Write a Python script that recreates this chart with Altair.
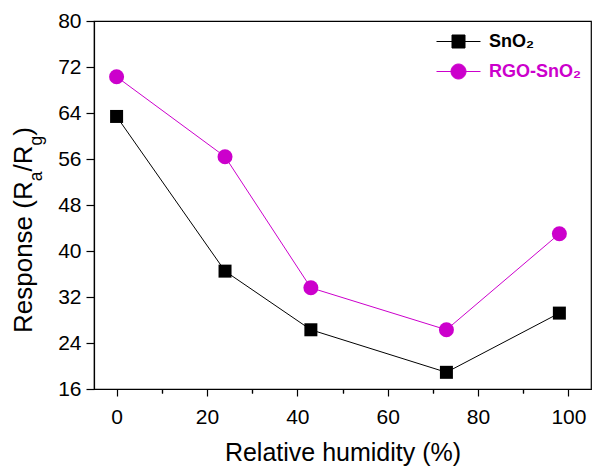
import altair as alt
import pandas as pd

# ---------------- data ----------------
humidity = [0, 24, 43, 73, 98]
sno2 = [63.4, 36.5, 26.3, 18.9, 29.2]
rgo_sno2 = [70.3, 56.4, 33.6, 26.3, 43.0]
series_names = ["SnO₂", "RGO-SnO₂"]
series_colors = ["#000000", "#CC00CC"]
series_shapes = ["square", "circle"]
series_sizes = [169, 225]

x_ticks = [0, 20, 40, 60, 80, 100]
x_minor_ticks = [10, 30, 50, 70, 90]
y_ticks = [16, 24, 32, 40, 48, 56, 64, 72, 80]
x_title = "Relative humidity (%)"
y_title_parts = ["Response (R", "a", "/R", "g", ")"]
y_title_sub = [False, True, False, True, False]

FONT = "Liberation Sans"

df = pd.DataFrame({
    "humidity": humidity * 2,
    "response": sno2 + rgo_sno2,
    "series": [series_names[0]] * len(humidity) + [series_names[1]] * len(humidity),
})

W, H = 497, 368
x_scale = alt.Scale(domain=[-5, 105], nice=False, zero=False)
y_scale = alt.Scale(domain=[16, 80], nice=False, zero=False)
color_scale = alt.Scale(domain=series_names, range=series_colors)

y_axis = alt.Axis(values=y_ticks, title=None, tickSize=8, labelPadding=5,
                  grid=False, orient="left")

SQ_PATH = "M-2.2,0H2.2M-0.65,-0.65H0.65V0.65H-0.65Z"
CI_PATH = "M-2.2,0H2.2M-0.75,0A0.75,0.75,0,1,1,0.75,0A0.75,0.75,0,1,1,-0.75,0Z"
is_first = "datum.value === '" + series_names[0] + "'"


def pick(a, b):
    return alt.ExprRef(expr=is_first + " ? '" + a + "' : '" + b + "'")


legend = alt.Legend(
    title=None, orient="none", legendX=354, legendY=10, padding=0,
    symbolSize=400, labelOffset=20, rowPadding=10,
    labelFont=FONT, labelFontSize=18, labelFontWeight="bold",
    symbolType=pick(SQ_PATH, CI_PATH),
    symbolStrokeColor=pick(series_colors[0], series_colors[1]),
    symbolFillColor=pick(series_colors[0], series_colors[1]),
    symbolStrokeWidth=1, symbolOpacity=1,
    labelColor=pick(series_colors[0], series_colors[1]),
)

base = alt.Chart(df)

lines = base.mark_line(strokeWidth=1).encode(
    x=alt.X("humidity:Q", scale=x_scale,
            axis=alt.Axis(values=x_ticks, orient="bottom", title=x_title,
                          tickSize=7, labelPadding=10, grid=False,
                          titleY=71, titleBaseline="alphabetic",
                          titleFont=FONT, titleFontSize=25,
                          titleFontWeight="normal", titleColor="black")),
    y=alt.Y("response:Q", scale=y_scale, axis=y_axis),
    color=alt.Color("series:N", scale=color_scale, legend=legend),
)

point_layers = []
for i, name in enumerate(series_names):
    point_layers.append(
        base.transform_filter(alt.datum.series == name).mark_point(
            filled=True, opacity=1, shape=series_shapes[i], size=series_sizes[i]
        ).encode(
            x=alt.X("humidity:Q", scale=x_scale,
                    axis=alt.Axis(values=x_minor_ticks, orient="bottom", labels=False,
                                  domain=False, tickSize=4, title=None, grid=False)),
            y=alt.Y("response:Q", scale=y_scale, axis=y_axis),
            color=alt.Color("series:N", scale=color_scale, legend=legend),
        )
    )

# ---- rotated y-axis title with subscripts, built from text pieces ----
char_w = {"R": 0.722, "e": 0.556, "s": 0.5, "p": 0.556, "o": 0.556, "n": 0.556,
          " ": 0.278, "(": 0.333, ")": 0.333, "/": 0.278, "a": 0.556, "g": 0.556}
MAIN_FS, SUB_FS = 26, 17.5
widths = [sum(char_w[c] for c in t) * (SUB_FS if s else MAIN_FS)
          for t, s in zip(y_title_parts, y_title_sub)]
pos = 312
title_layers = []
for t, s, w in zip(y_title_parts, y_title_sub, widths):
    title_layers.append(
        alt.Chart(pd.DataFrame({"t": [t]})).mark_text(
            angle=270, align="left", baseline="alphabetic", font=FONT,
            fontSize=SUB_FS if s else MAIN_FS, color="black",
        ).encode(x=alt.value(-52 if s else -62), y=alt.value(pos), text="t:N")
    )
    pos -= w

chart = alt.layer(lines, *point_layers, *title_layers).resolve_axis(
    x="independent"
).properties(
    width=W, height=H,
    autosize=alt.AutoSizeParams(type="none"),
    padding={"left": 94, "top": 21, "right": 9, "bottom": 78},
    background="white",
).configure_view(
    stroke="black", strokeWidth=1.2
).configure_axis(
    domainColor="black", domainWidth=1.2, tickColor="black", tickWidth=1.2,
    labelColor="black", labelFont=FONT, labelFontSize=21, grid=False,
)

chart.save("out.html", embed_options={"renderer": "svg", "actions": False})
